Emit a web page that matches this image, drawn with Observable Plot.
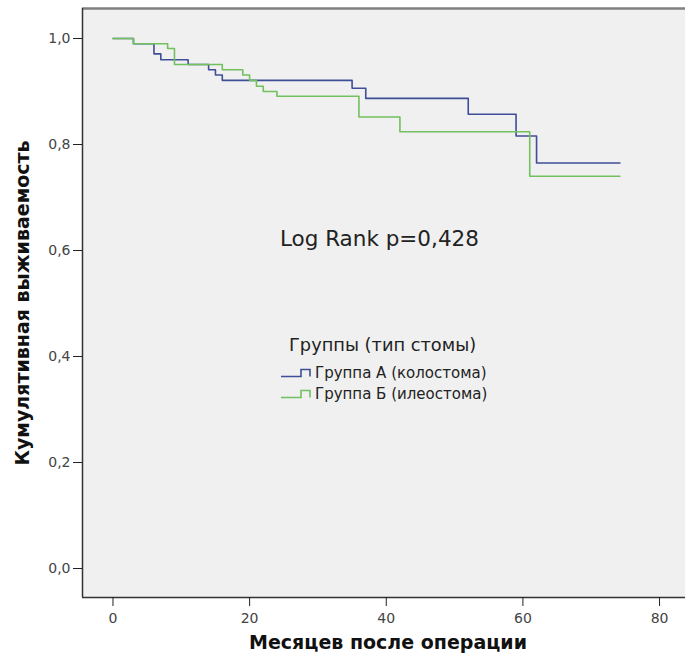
<!DOCTYPE html>
<html>
<head>
<meta charset="utf-8">
<script src="https://cdn.jsdelivr.net/npm/d3@7"></script>
<script src="https://cdn.jsdelivr.net/npm/@observablehq/plot@0.6"></script>
<style>
  html, body { margin: 0; padding: 0; background: #ffffff; }
  #wrap { position: relative; width: 685px; height: 666px; }
  #legend { position: absolute; left: 281px; top: 334px; font-family: "DejaVu Sans", sans-serif; color: #222; }
  #legend .title { font-size: 17.8px; margin-left: 8px; margin-bottom: 7px; }
  #legend .item { font-size: 15px; height: 21px; display: flex; align-items: center; }
  #legend svg { margin-right: 2px; }
</style>
</head>
<body>
<div id="wrap"></div>
<script>
// ---- data ----
const groupNames = ["Группа А (колостома)", "Группа Б (илеостома)"];
const groupColors = ["#3f4e98", "#72c05e"];
const groupA_time = [0, 3, 6, 7, 11, 14, 15, 16, 35, 37, 52, 59, 62, 74.2];
const groupA_surv = [1.0, 0.990, 0.971, 0.960, 0.951, 0.941, 0.931, 0.921, 0.906, 0.887, 0.857, 0.816, 0.765, 0.765];
const groupB_time = [0, 3, 8, 9, 16, 19, 20, 21, 22, 24, 36, 42, 61, 74.2];
const groupB_surv = [1.0, 0.990, 0.981, 0.951, 0.941, 0.931, 0.921, 0.910, 0.900, 0.891, 0.852, 0.824, 0.740, 0.740];
const xTicks = [0, 20, 40, 60, 80];
const yTicks = [0, 0.2, 0.4, 0.6, 0.8, 1.0];
const xDomain = [-4.46, 83.8];
const yDomain = [-0.0547, 1.0566];
const xTitle = "Месяцев после операции";
const yTitle = "Кумулятивная выживаемость";
const legendTitle = "Группы (тип стомы)";
const annotationText = ["Log Rank p=0,428"];
const annotationX = [39.0];
const annotationY = [0.622];

const rows = [];
groupA_time.forEach((t, i) => rows.push({group: groupNames[0], t, s: groupA_surv[i]}));
groupB_time.forEach((t, i) => rows.push({group: groupNames[1], t, s: groupB_surv[i]}));
const annotations = annotationText.map((txt, i) => ({txt, x: annotationX[i], y: annotationY[i]}));

const fmtComma = d => d3.format(".1f")(d).replace(".", ",");

const chart = Plot.plot({
  width: 685,
  height: 666,
  marginLeft: 82,
  marginRight: 0,
  marginTop: 8,
  marginBottom: 69,
  style: { fontFamily: "DejaVu Sans, sans-serif", background: "#ffffff", color: "#444" },
  x: { domain: xDomain, axis: null },
  y: { domain: yDomain, axis: null },
  color: { domain: groupNames, range: groupColors },
  marks: [
    Plot.frame({ fill: "#f0f0f0" }),
    Plot.ruleY([yDomain[1]], { stroke: "#808080", strokeWidth: 2.5 }),
    Plot.ruleX([xDomain[0]], { stroke: "#333", strokeWidth: 1.5 }),
    Plot.ruleY([yDomain[0]], { stroke: "#333", strokeWidth: 1.5 }),
    Plot.axisX({ ticks: xTicks, tickFormat: d3.format("d"), tickSize: 9, tickPadding: 7, fontSize: 14, label: null, stroke: "#222", fill: "#444" }),
    Plot.axisY({ ticks: yTicks, tickFormat: fmtComma, tickSize: 9, tickPadding: 3, fontSize: 14, label: null, stroke: "#222", fill: "#444" }),
    Plot.line(rows, { x: "t", y: "s", z: "group", stroke: "group", curve: "step-after", strokeWidth: 1.6 }),
    Plot.text(annotations, { x: "x", y: "y", text: "txt", fontSize: 21.5, fill: "#222", fontFamily: "DejaVu Sans, sans-serif" }),
    Plot.text([xTitle], { text: d => d, frameAnchor: "bottom", dx: 4, dy: 51, fontSize: 19, fontWeight: "bold", fill: "#111", fontFamily: "DejaVu Sans, sans-serif" }),
    Plot.text([yTitle], { text: d => d, frameAnchor: "left", textAnchor: "middle", dx: -60, rotate: -90, fontSize: 19, fontWeight: "bold", fill: "#111", fontFamily: "DejaVu Sans, sans-serif" })
  ]
});

const wrap = document.getElementById("wrap");
wrap.appendChild(chart);

// legend
const legend = document.createElement("div");
legend.id = "legend";
const lt = document.createElement("div");
lt.className = "title";
lt.textContent = legendTitle;
legend.appendChild(lt);
groupNames.forEach((name, i) => {
  const item = document.createElement("div");
  item.className = "item";
  item.innerHTML = `<svg width="32" height="10"><path d="M0,8.5H20V1.5H29V8.5" fill="none" stroke="${groupColors[i]}" stroke-width="1.6"/></svg><span>${name}</span>`;
  legend.appendChild(item);
});
wrap.appendChild(legend);
</script>
</body>
</html>
